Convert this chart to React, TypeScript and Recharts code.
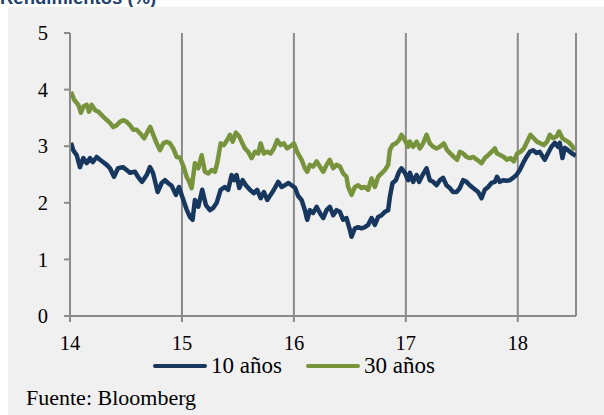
import { LineChart, Line, XAxis, YAxis, CartesianGrid, Legend } from 'recharts';

// Yields in percent, dates as fractional two-digit years (14 = 2014)
const tenYearDates = [
  14.009, 14.029, 14.06, 14.089, 14.119, 14.149, 14.179, 14.205, 14.238, 14.268, 14.295, 14.328,
  14.357, 14.393, 14.429, 14.473, 14.506, 14.536, 14.58, 14.607, 14.643, 14.685, 14.714, 14.741,
  14.783, 14.819, 14.848, 14.875, 14.908, 14.946, 14.973, 15.009, 15.042, 15.071, 15.095, 15.116,
  15.146, 15.181, 15.214, 15.25, 15.279, 15.31, 15.346, 15.384, 15.413, 15.444, 15.467, 15.488,
  15.512, 15.542, 15.571, 15.607, 15.643, 15.672, 15.703, 15.732, 15.762, 15.792, 15.821, 15.86,
  15.89, 15.92, 15.949, 15.979, 16.009, 16.038, 16.069, 16.098, 16.119, 16.143, 16.172, 16.203,
  16.232, 16.262, 16.292, 16.321, 16.351, 16.381, 16.411, 16.44, 16.47, 16.5, 16.515, 16.545,
  16.574, 16.604, 16.634, 16.663, 16.694, 16.723, 16.753, 16.783, 16.813, 16.842, 16.857, 16.881,
  16.911, 16.94, 16.961, 16.991, 17.021, 17.036, 17.065, 17.096, 17.119, 17.149, 17.185, 17.214,
  17.244, 17.274, 17.304, 17.333, 17.363, 17.393, 17.422, 17.453, 17.482, 17.512, 17.542, 17.571,
  17.601, 17.646, 17.676, 17.705, 17.735, 17.765, 17.795, 17.815, 17.839, 17.869, 17.899, 17.929,
  17.958, 17.988, 18.018, 18.047, 18.078, 18.107, 18.137, 18.167, 18.196, 18.241, 18.271, 18.301,
  18.33, 18.36, 18.375, 18.399, 18.42, 18.449, 18.479, 18.518,
];
const tenYearYields = [
  3.06, 2.93, 2.84, 2.63, 2.79, 2.7, 2.79, 2.72, 2.81, 2.76, 2.72, 2.67,
  2.61, 2.46, 2.61, 2.63, 2.58, 2.53, 2.55, 2.46, 2.37, 2.49, 2.63, 2.53,
  2.19, 2.35, 2.4, 2.35, 2.3, 2.14, 2.28, 2.07, 1.88, 1.75, 1.7, 2.05,
  1.93, 2.23, 1.96, 1.87, 1.91, 2.0, 2.23, 2.28, 2.23, 2.49, 2.4, 2.49,
  2.26, 2.4, 2.31, 2.23, 2.17, 2.23, 2.08, 2.19, 2.05, 2.14, 2.23, 2.37,
  2.28, 2.31, 2.35, 2.31, 2.27, 2.12, 2.05, 1.87, 1.7, 1.87, 1.82, 1.93,
  1.82, 1.73, 1.87, 1.93, 1.78, 1.87, 1.84, 1.7, 1.73, 1.52, 1.4, 1.55,
  1.57, 1.55, 1.57, 1.61, 1.73, 1.61, 1.75, 1.78, 1.84, 1.87, 2.1, 2.35,
  2.4, 2.55, 2.61, 2.53, 2.4, 2.53, 2.37, 2.49, 2.37, 2.49, 2.61, 2.4,
  2.37, 2.31, 2.4, 2.44, 2.31, 2.26, 2.19, 2.19, 2.26, 2.4, 2.37, 2.31,
  2.26, 2.19, 2.08, 2.23, 2.28, 2.35, 2.37, 2.46, 2.37, 2.4, 2.39, 2.4,
  2.44, 2.49, 2.58, 2.7, 2.81, 2.9, 2.93, 2.88, 2.9, 2.76, 2.88, 2.99,
  3.06, 2.99, 3.06, 2.79, 2.97, 2.93, 2.88, 2.83,
];

const thirtyYearDates = [
  14.009, 14.038, 14.074, 14.098, 14.119, 14.149, 14.17, 14.194, 14.223, 14.253, 14.283, 14.313,
  14.348, 14.387, 14.417, 14.446, 14.476, 14.506, 14.536, 14.565, 14.596, 14.625, 14.663, 14.694,
  14.717, 14.744, 14.774, 14.804, 14.833, 14.863, 14.893, 14.922, 14.953, 14.982, 15.012, 15.042,
  15.065, 15.087, 15.116, 15.146, 15.176, 15.205, 15.235, 15.265, 15.295, 15.315, 15.346, 15.375,
  15.404, 15.429, 15.453, 15.482, 15.512, 15.533, 15.563, 15.592, 15.622, 15.652, 15.681, 15.703,
  15.732, 15.762, 15.792, 15.821, 15.851, 15.881, 15.911, 15.94, 15.971, 16.0, 16.029, 16.069,
  16.098, 16.119, 16.143, 16.172, 16.203, 16.232, 16.262, 16.292, 16.321, 16.351, 16.381, 16.411,
  16.44, 16.47, 16.485, 16.515, 16.545, 16.574, 16.604, 16.634, 16.663, 16.694, 16.723, 16.753,
  16.783, 16.813, 16.842, 16.857, 16.881, 16.911, 16.94, 16.961, 16.991, 17.021, 17.036, 17.065,
  17.096, 17.125, 17.154, 17.185, 17.214, 17.244, 17.274, 17.304, 17.339, 17.369, 17.399, 17.429,
  17.458, 17.482, 17.512, 17.542, 17.571, 17.601, 17.637, 17.676, 17.705, 17.735, 17.765, 17.795,
  17.815, 17.846, 17.875, 17.904, 17.935, 17.964, 17.994, 18.024, 18.054, 18.083, 18.113, 18.143,
  18.172, 18.203, 18.232, 18.262, 18.286, 18.315, 18.346, 18.369, 18.399, 18.42, 18.449, 18.479,
  18.509,
];
const thirtyYearYields = [
  3.96, 3.82, 3.73, 3.59, 3.7, 3.73, 3.61, 3.73, 3.64, 3.61, 3.55, 3.49,
  3.43, 3.34, 3.37, 3.43, 3.46, 3.43, 3.37, 3.29, 3.29, 3.23, 3.14, 3.26,
  3.34, 3.2, 3.05, 2.93, 3.05, 3.08, 3.05, 2.96, 2.81, 2.8, 2.65, 2.46,
  2.37, 2.26, 2.7, 2.61, 2.84, 2.55, 2.52, 2.58, 2.55, 2.7, 3.05, 3.02,
  3.11, 3.2, 3.08, 3.24, 3.17, 3.08, 2.96, 2.9, 2.79, 2.9, 2.87, 3.05,
  2.87, 2.9, 2.87, 2.96, 3.11, 3.02, 3.05, 2.96, 3.0, 3.05, 2.9, 2.76,
  2.61, 2.55, 2.67, 2.64, 2.73, 2.64, 2.55, 2.67, 2.76, 2.61, 2.67, 2.64,
  2.52, 2.46, 2.28, 2.14, 2.28, 2.31, 2.26, 2.28, 2.23, 2.43, 2.28, 2.46,
  2.52, 2.58, 2.67, 2.93, 3.02, 3.05, 3.11, 3.2, 3.11, 2.99, 3.08, 2.99,
  3.08, 2.96, 3.05, 3.2, 3.05, 2.99, 2.96, 2.99, 3.05, 2.93, 2.87, 2.81,
  2.76, 2.9, 2.87, 2.81, 2.79, 2.81, 2.76, 2.7, 2.79, 2.84, 2.9, 2.96,
  2.87, 2.84, 2.81, 2.76, 2.79, 2.73, 2.87, 2.9, 2.96, 3.08, 3.2, 3.14,
  3.08, 3.05, 3.02, 3.08, 3.2, 3.14, 3.17, 3.26, 3.14, 3.11, 3.08, 3.02,
  2.93,
];

const yearTicks = [14, 15, 16, 17, 18];
const yieldTicks = [0, 1, 2, 3, 4, 5];

const series = [
  { name: '10 años', color: '#17375E', dates: tenYearDates, yields: tenYearYields },
  { name: '30 años', color: '#77933C', dates: thirtyYearDates, yields: thirtyYearYields },
];

const GRID = '#8a8a8a';
const SERIF = '"Liberation Serif", "Times New Roman", serif';

function SeriesLegend() {
  return (
    <div style={{ display: 'flex', alignItems: 'center', paddingLeft: 145, fontFamily: SERIF, fontSize: 23, lineHeight: '20px', color: '#000' }}>
      {series.map((s, i) => (
        <div key={s.name} style={{ display: 'flex', alignItems: 'center', marginRight: i === 0 ? 24 : 0 }}>
          <div style={{ width: 54, height: 4, background: s.color, borderRadius: 2, marginRight: 4 }} />
          <span>{s.name}</span>
        </div>
      ))}
    </div>
  );
}

export default function App() {
  return (
    <div style={{ position: 'absolute', left: 0, top: 0, width: 604, height: 415, background: '#fff', overflow: 'hidden' }}>
      {/* heading sits above the panel and is clipped by its top edge */}
      <svg width={604} height={7} style={{ position: 'absolute', left: 0, top: 0 }}>
        <text x={0} y={4} fill="#1F3F6E" fontFamily='"Liberation Sans", Arial, sans-serif' fontWeight="bold" fontSize={18.5}>
          Rendimientos (%)
        </text>
      </svg>
      <div style={{ position: 'absolute', left: 8, top: 7, width: 596, height: 408, background: '#f0f0f0' }}>
        <LineChart width={596} height={408} margin={{ top: 26, right: 28, left: 0, bottom: 69 }}>
          <CartesianGrid horizontal={false} stroke={GRID} strokeWidth={2} />
          <XAxis
            type="number"
            dataKey="year"
            domain={[14, 18.52]}
            ticks={yearTicks}
            allowDataOverflow
            height={30}
            stroke={GRID}
            strokeWidth={2}
            tickSize={6}
            tickMargin={13}
            tick={{ fill: '#000', fontSize: 20.5, fontFamily: SERIF }}
          />
          <YAxis
            type="number"
            domain={[0, 5]}
            ticks={yieldTicks}
            width={62}
            stroke={GRID}
            strokeWidth={2}
            tickSize={6}
            tickMargin={16}
            tick={{ fill: '#000', fontSize: 20.5, fontFamily: SERIF }}
          />
          {series.map((s) => (
            <Line
              key={s.name}
              data={s.dates.map((year, i) => ({ year, value: s.yields[i] }))}
              dataKey="value"
              name={s.name}
              type="linear"
              stroke={s.color}
              strokeWidth={4.5}
              strokeLinejoin="round"
              dot={false}
              isAnimationActive={false}
            />
          ))}
          <Legend
            layout="horizontal"
            verticalAlign="middle"
            align="center"
            content={() => <SeriesLegend />}
            wrapperStyle={{ top: 349, left: 0, width: 596 }}
          />
        </LineChart>
        <div style={{ position: 'absolute', left: 18, top: 378, fontFamily: SERIF, fontSize: 22, color: '#000', lineHeight: '26px' }}>
          Fuente: Bloomberg
        </div>
      </div>
    </div>
  );
}
